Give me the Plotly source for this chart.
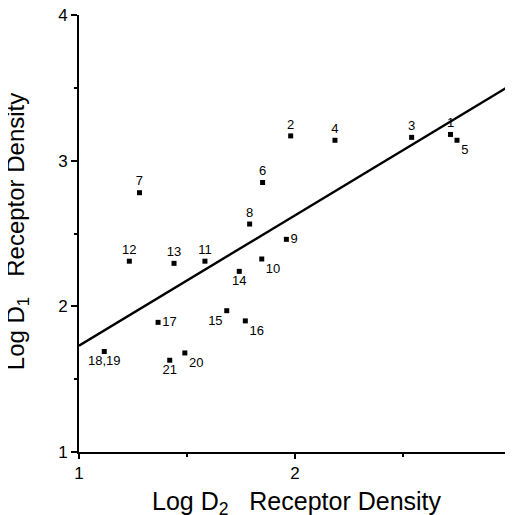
import plotly.graph_objects as go

# Data
labels = ["1", "2", "3", "4", "5", "6", "7", "8", "9", "10", "11",
          "12", "13", "14", "15", "16", "17", "18,19", "20", "21"]
log_d2 = [2.72, 1.98, 2.54, 2.185, 2.75, 1.85, 1.28, 1.79, 1.96, 1.846, 1.583,
          1.233, 1.44, 1.742, 1.684, 1.77, 1.366, 1.117, 1.49, 1.42]
log_d1 = [3.18, 3.17, 3.16, 3.14, 3.14, 2.85, 2.78, 2.565, 2.46, 2.325, 2.31,
          2.31, 2.295, 2.24, 1.97, 1.90, 1.89, 1.69, 1.68, 1.63]
label_pos = ["top center", "top center", "top center", "top center", "bottom right",
             "top center", "top center", "top center", "middle right", "bottom right",
             "top center", "top center", "top center", "bottom center", "bottom left",
             "bottom right", "middle right", "bottom center", "bottom right", "bottom center"]

fit_x = [1.0, 3.0]
fit_y = [1.73, 3.52]

x_ticks = [1, 2, 3]
y_ticks = [1, 2, 3, 4]

x_title = "Log D<sub>2</sub>   Receptor Density"
y_title = "Log D<sub>1</sub>   Receptor Density"

FONT = "Liberation Sans, Arial, sans-serif"

fig = go.Figure()
fig.add_trace(go.Scatter(
    x=fit_x, y=fit_y, mode="lines",
    line=dict(color="black", width=2.4),
    hoverinfo="skip", showlegend=False, cliponaxis=False,
))
fig.add_trace(go.Scatter(
    x=log_d2, y=log_d1, mode="markers+text",
    text=labels, textposition=label_pos,
    textfont=dict(family=FONT, size=13, color="black"),
    marker=dict(symbol="square", size=5, color="black"),
    showlegend=False, cliponaxis=False,
))

fig.update_layout(
    width=505, height=507,
    margin=dict(l=71, r=2, t=7, b=63, autoexpand=False),
    paper_bgcolor="white", plot_bgcolor="white",
    font=dict(family=FONT, color="black"),
    xaxis=dict(
        range=[1, 3], tickvals=x_ticks, ticktext=[str(v) for v in x_ticks],
        automargin=False, ticklabeloverflow="allow",
        showgrid=False, zeroline=False,
        showline=True, linecolor="black", linewidth=2,
        ticks="outside", ticklen=5, tickwidth=1.5, tickcolor="black",
        minor=dict(dtick=0.5, ticks="outside", ticklen=3, tickcolor="black", showgrid=False),
        tickfont=dict(size=17, family=FONT),
    ),
    yaxis=dict(
        range=[1, 4], tickvals=y_ticks, ticktext=[str(v) for v in y_ticks],
        automargin=False, ticklabeloverflow="allow",
        showgrid=False, zeroline=False,
        showline=True, linecolor="black", linewidth=2,
        ticks="outside", ticklen=6, tickwidth=1.5, tickcolor="black",
        minor=dict(dtick=0.5, ticks="outside", ticklen=3, tickcolor="black", showgrid=False),
        tickfont=dict(size=17, family=FONT),
    ),
    annotations=[
        dict(text=x_title, xref="paper", yref="paper", x=0.5046, y=-0.1167,
             xanchor="center", yanchor="middle", showarrow=False,
             font=dict(size=25, family=FONT, color="black")),
        dict(text=y_title, xref="paper", yref="paper", x=-0.1435, y=0.503,
             xanchor="center", yanchor="middle", showarrow=False, textangle=-90,
             font=dict(size=24, family=FONT, color="black")),
    ],
)

fig.write_html("out.html")
